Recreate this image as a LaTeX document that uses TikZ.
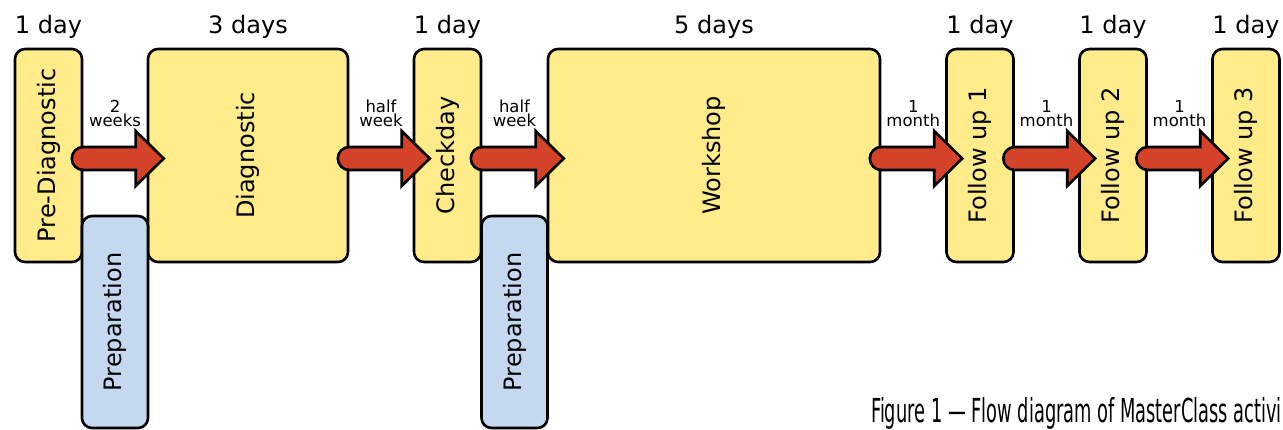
\documentclass[tikz,border=0pt]{standalone}
\usepackage{graphicx}
\usepackage{fontspec}
\setmainfont{DejaVu Sans}
\newfontfamily\capfont{DejaVu Sans Condensed}
\usetikzlibrary{calc}
\definecolor{boxyellow}{RGB}{254,235,138}
\definecolor{prepblue}{RGB}{196,216,239}
\definecolor{arrowred}{RGB}{212,66,42}
\tikzset{
  stage/.style={draw=black, line width=2.6pt, rounded corners=10pt, fill=boxyellow, inner sep=0pt, font=\fontsize{24}{28}\selectfont},
  prep/.style={stage, fill=prepblue},
  dur/.style={font=\fontsize{24}{28}\selectfont, inner sep=0pt, anchor=base},
  gap/.style={font=\fontsize{16.5}{14}\selectfont, align=center, inner sep=0pt, anchor=north},
  bigarrow/.style={draw=black, line width=2.6pt, fill=arrowred, line join=miter},
}
\newcommand\flowarrow[2]{%
  \path[bigarrow] let \p1=($(#1.east)+(0,3)$), \p2=(#2.west) in
    (\x1,\y1-11.5pt) -- (\x2-11pt,\y1-11.5pt) -- (\x2-11pt,\y1-27.5pt) -- (\x2+17pt,\y1)
    -- (\x2-11pt,\y1+27.5pt) -- (\x2-11pt,\y1+11.5pt) -- (\x1,\y1+11.5pt)
    arc[start angle=90,end angle=270,radius=11.5pt] -- cycle;}
\begin{document}
\begin{tikzpicture}[x=1pt,y=-1pt]
  \useasboundingbox (0,0) rectangle (1283,429);
  \clip (0,0) rectangle (1283,429);
  % stages
  \node[stage, minimum width=67pt, minimum height=213pt] (pre) at (48.5,155.5) {\rotatebox{90}{Pre-Diagnostic}};
  \node[stage, minimum width=200pt, minimum height=213pt] (diag) at (248,155.5) {\rotatebox{90}{Diagnostic}};
  \node[stage, minimum width=67pt, minimum height=213pt] (check) at (447.5,155.5) {\rotatebox{90}{Checkday}};
  \node[stage, minimum width=332pt, minimum height=213pt] (work) at (714,155.5) {\rotatebox{90}{Workshop}};
  \node[stage, minimum width=67pt, minimum height=213pt] (fu1) at (980,155.5) {\rotatebox{90}{Follow up 1}};
  \node[stage, minimum width=67pt, minimum height=213pt] (fu2) at (1113,155.5) {\rotatebox{90}{Follow up 2}};
  \node[stage, minimum width=67pt, minimum height=213pt] (fu3) at (1246,155.5) {\rotatebox{90}{Follow up 3}};
  % preparation
  \node[prep, minimum width=66pt, minimum height=212pt] (prep1) at (115,322) {\rotatebox{90}{Preparation}};
  \node[prep, minimum width=66pt, minimum height=212pt] (prep2) at (514.5,322) {\rotatebox{90}{Preparation}};
  % durations
  \node[dur] (d1) at (48.5,33) {1 day};
  \node[dur] (d2) at (248,33) {3 days};
  \node[dur] (d3) at (447.5,33) {1 day};
  \node[dur] (d4) at (714,33) {5 days};
  \node[dur] (d5) at (980,33) {1 day};
  \node[dur] (d6) at (1113,33) {1 day};
  \node[dur] (d7) at (1246,33) {1 day};
  % arrows
  \flowarrow{pre}{diag}
  \flowarrow{diag}{check}
  \flowarrow{check}{work}
  \flowarrow{work}{fu1}
  \flowarrow{fu1}{fu2}
  \flowarrow{fu2}{fu3}
  % gap labels
  \node[gap] (g1) at ($(pre.east)!0.5!(diag.west)+(0,-55.5)$) {2\\weeks};
  \node[gap] (g2) at ($(diag.east)!0.5!(check.west)+(0,-55.5)$) {half\\week};
  \node[gap] (g3) at ($(check.east)!0.5!(work.west)+(0,-55.5)$) {half\\week};
  \node[gap] (g4) at ($(work.east)!0.5!(fu1.west)+(0,-55.5)$) {1\\month};
  \node[gap] (g5) at ($(fu1.east)!0.5!(fu2.west)+(0,-55.5)$) {1\\month};
  \node[gap] (g6) at ($(fu2.east)!0.5!(fu3.west)+(0,-55.5)$) {1\\month};
  % caption
  \node[anchor=base west, inner sep=0pt, font=\capfont\fontsize{33}{33}\selectfont] (cap) at (871,422) {\scalebox{0.6}[1]{Figure 1 — Flow diagram of MasterClass activi}};
\end{tikzpicture}
\end{document}
